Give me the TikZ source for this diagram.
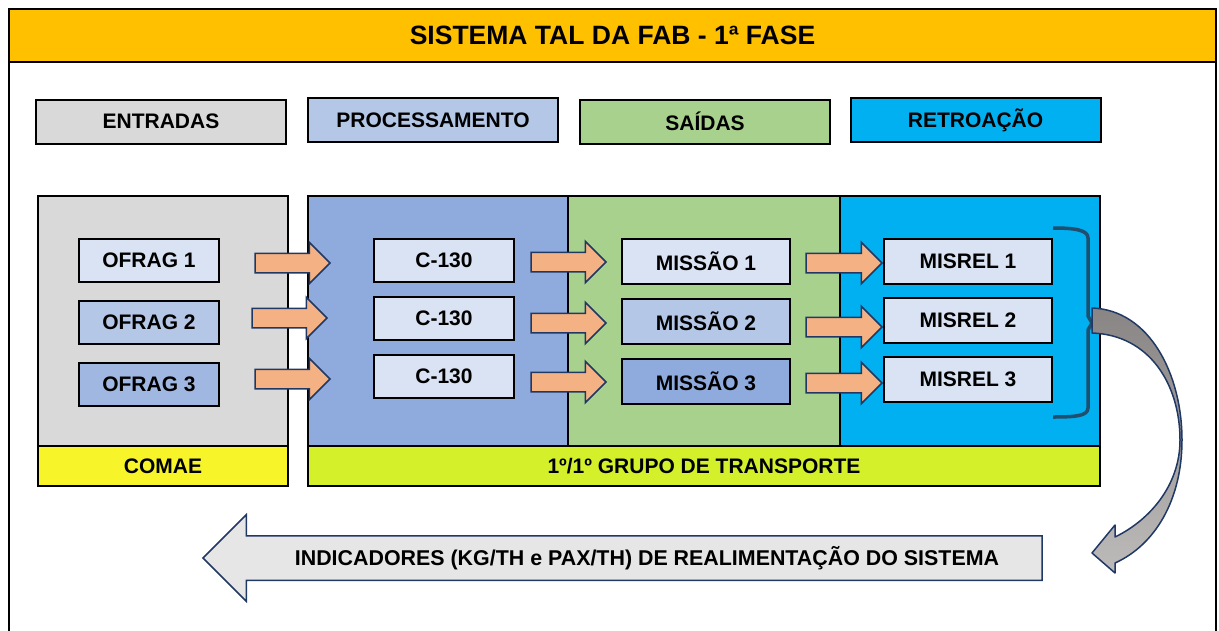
\documentclass[tikz,border=0pt]{standalone}
\usepackage{fontspec}
\setmainfont{Liberation Sans}
\usepackage{tikz}
\usetikzlibrary{positioning, shapes.arrows}
\definecolor{titleyellow}{HTML}{FFC000}
\definecolor{ingray}{HTML}{D9D9D9}
\definecolor{procblue}{HTML}{B4C7E7}
\definecolor{panelblue}{HTML}{8FAADC}
\definecolor{paleblue}{HTML}{DAE3F3}
\definecolor{outgreen}{HTML}{A9D18E}
\definecolor{retrocyan}{HTML}{00B0F0}
\definecolor{comaeyellow}{HTML}{F7F52A}
\definecolor{gtlime}{HTML}{D4F02A}
\definecolor{arroworange}{HTML}{F4B183}
\definecolor{navyline}{HTML}{203864}
\definecolor{bracketteal}{HTML}{1F4E6E}
\definecolor{feedgray}{HTML}{E7E6E6}
\definecolor{curvedark}{HTML}{8A8585}
\definecolor{curvelight}{HTML}{BDBABA}
\tikzset{
x=1pt, y=-1pt, % one unit is one pixel of the layout, y grows downwards
every node/.style={font=\fontsize{21}{25}\selectfont\bfseries, outer sep=0pt},
titlebar/.style={draw, line width=2.5pt, fill=titleyellow, minimum width=1207pt, minimum height=53pt, font=\fontsize{26.5}{30}\selectfont\bfseries},
legend/.style={draw, line width=2pt, minimum width=250pt, minimum height=44pt}, % the four headings
panel/.style={draw, line width=2pt, minimum width=#1, minimum height=250pt},
basebar/.style={draw, line width=2pt, minimum height=40pt},
box/.style={draw, line width=2pt, minimum width=#1, minimum height=43pt},
farrow/.style={single arrow, draw=navyline, line width=1.5pt, fill=arroworange, minimum height=75pt, inner xsep=0pt, inner ysep=9pt, single arrow head extend=11pt, anchor=tail},
feedarrow/.style={single arrow, shape border rotate=180, draw=navyline, line width=1.5pt, fill=feedgray, minimum height=839pt, minimum width=85pt, inner ysep=21.5pt, inner xsep=0pt, single arrow head extend=21pt},
}
\begin{document}
\begin{tikzpicture}
\useasboundingbox (0,0) rectangle (1219,630);
% frame and title
\draw[line width=2.5pt] (9,9) rectangle (1216,660);
\node[titlebar] (title) at (612.5,35.5) {SISTEMA TAL DA FAB - 1ª FASE};

% headings
\node[legend, fill=ingray] (entradas) at (161,121.5) {ENTRADAS};
\node[legend, fill=procblue] (processamento) at (433,120) {PROCESSAMENTO};
\node[legend, fill=outgreen] (saidas) at (705,121.5) {SAÍDAS};
\node[legend, fill=retrocyan] (retroacao) at (975.5,120) {RETROAÇÃO};

% panels
\node[panel=250pt, fill=ingray] (pentradas) at (163,321) {};
\node[panel=260pt, fill=panelblue] (pproc) at (438,321) {};
\node[panel=272pt, fill=outgreen, right=0pt of pproc] (psaidas) {};
\node[panel=260pt, fill=retrocyan, right=0pt of psaidas] (pretro) {};
\node[basebar, fill=comaeyellow, minimum width=250pt, below=0pt of pentradas] (comae) {COMAE};
\node[basebar, fill=gtlime, minimum width=792pt, anchor=north west] (gt) at (pproc.south west) {1º/1º GRUPO DE TRANSPORTE};

% entradas
\node[box=140pt, fill=paleblue] (ofrag1) at (149,260.5) {OFRAG 1};
\node[box=140pt, fill=procblue, below=19pt of ofrag1] (ofrag2) {OFRAG 2};
\node[box=140pt, fill=panelblue!85!white, below=19pt of ofrag2] (ofrag3) {OFRAG 3};
% processamento
\node[box=140pt, fill=paleblue] (c1) at (444,260.5) {C-130};
\node[box=140pt, fill=paleblue, below=15pt of c1] (c2) {C-130};
\node[box=140pt, fill=paleblue, below=15pt of c2] (c3) {C-130};
% saidas
\node[box=168pt, fill=paleblue, minimum height=45pt] (missao1) at (706,261.5) {MISSÃO 1};
\node[box=168pt, fill=procblue, minimum height=45pt, below=15pt of missao1] (missao2) {MISSÃO 2};
\node[box=168pt, fill=panelblue, minimum height=45pt, below=15pt of missao2] (missao3) {MISSÃO 3};
% retroacao
\node[box=168pt, fill=paleblue, minimum height=45pt] (misrel1) at (968,261.5) {MISREL 1};
\node[box=168pt, fill=paleblue, minimum height=45pt, below=14pt of misrel1] (misrel2) {MISREL 2};
\node[box=168pt, fill=paleblue, minimum height=45pt, below=14pt of misrel2] (misrel3) {MISREL 3};

% orange arrows
\node[farrow] (a11) at (255,263) {};
\node[farrow] (a12) at (252,318) {};
\node[farrow] (a13) at (255,379) {};
\node[farrow] (a21) at (531,262) {};
\node[farrow] (a22) at (531,323) {};
\node[farrow] (a23) at (531,382) {};
\node[farrow, minimum height=76pt] (a31) at (806,263) {};
\node[farrow, minimum height=76pt] (a32) at (806,327) {};
\node[farrow, minimum height=76pt] (a33) at (806,383) {};

% bracket round the misrel boxes
\coordinate (brtop) at (1053,228);
\coordinate (brmid) at (1092,323);
\coordinate (brbot) at (1053,417);
\draw[bracketteal, line width=3.5pt, line join=round]
  (brtop) .. controls (1075,228) and (1088,230) .. (1088,238) -- (1088,316)
  -- (brmid) -- (1088,330) -- (1088,408) .. controls (1088,416) and (1075,417) .. (brbot);

% curved feedback arrow
\draw[navyline, line width=1.5pt, line join=round, top color=curvedark, bottom color=curvelight]
  (1092,308) .. controls (1150,310) and (1182,375) .. (1182,440)
  .. controls (1182,500) and (1155,545) .. (1115,563)
  -- (1115,573) -- (1092,553) -- (1115,525) -- (1115,537)
  .. controls (1150,520) and (1180,485) .. (1180,440)
  .. controls (1180,385) and (1150,335) .. (1092,333) -- cycle;

% indicators
\node[feedarrow, anchor=tip] (indicadores) at (203,558) {};
\node[font=\fontsize{21.4}{25}\selectfont\bfseries] (indtext) at (647,558) {INDICADORES (KG/TH e PAX/TH) DE REALIMENTAÇÃO DO SISTEMA};
\end{tikzpicture}
\end{document}
